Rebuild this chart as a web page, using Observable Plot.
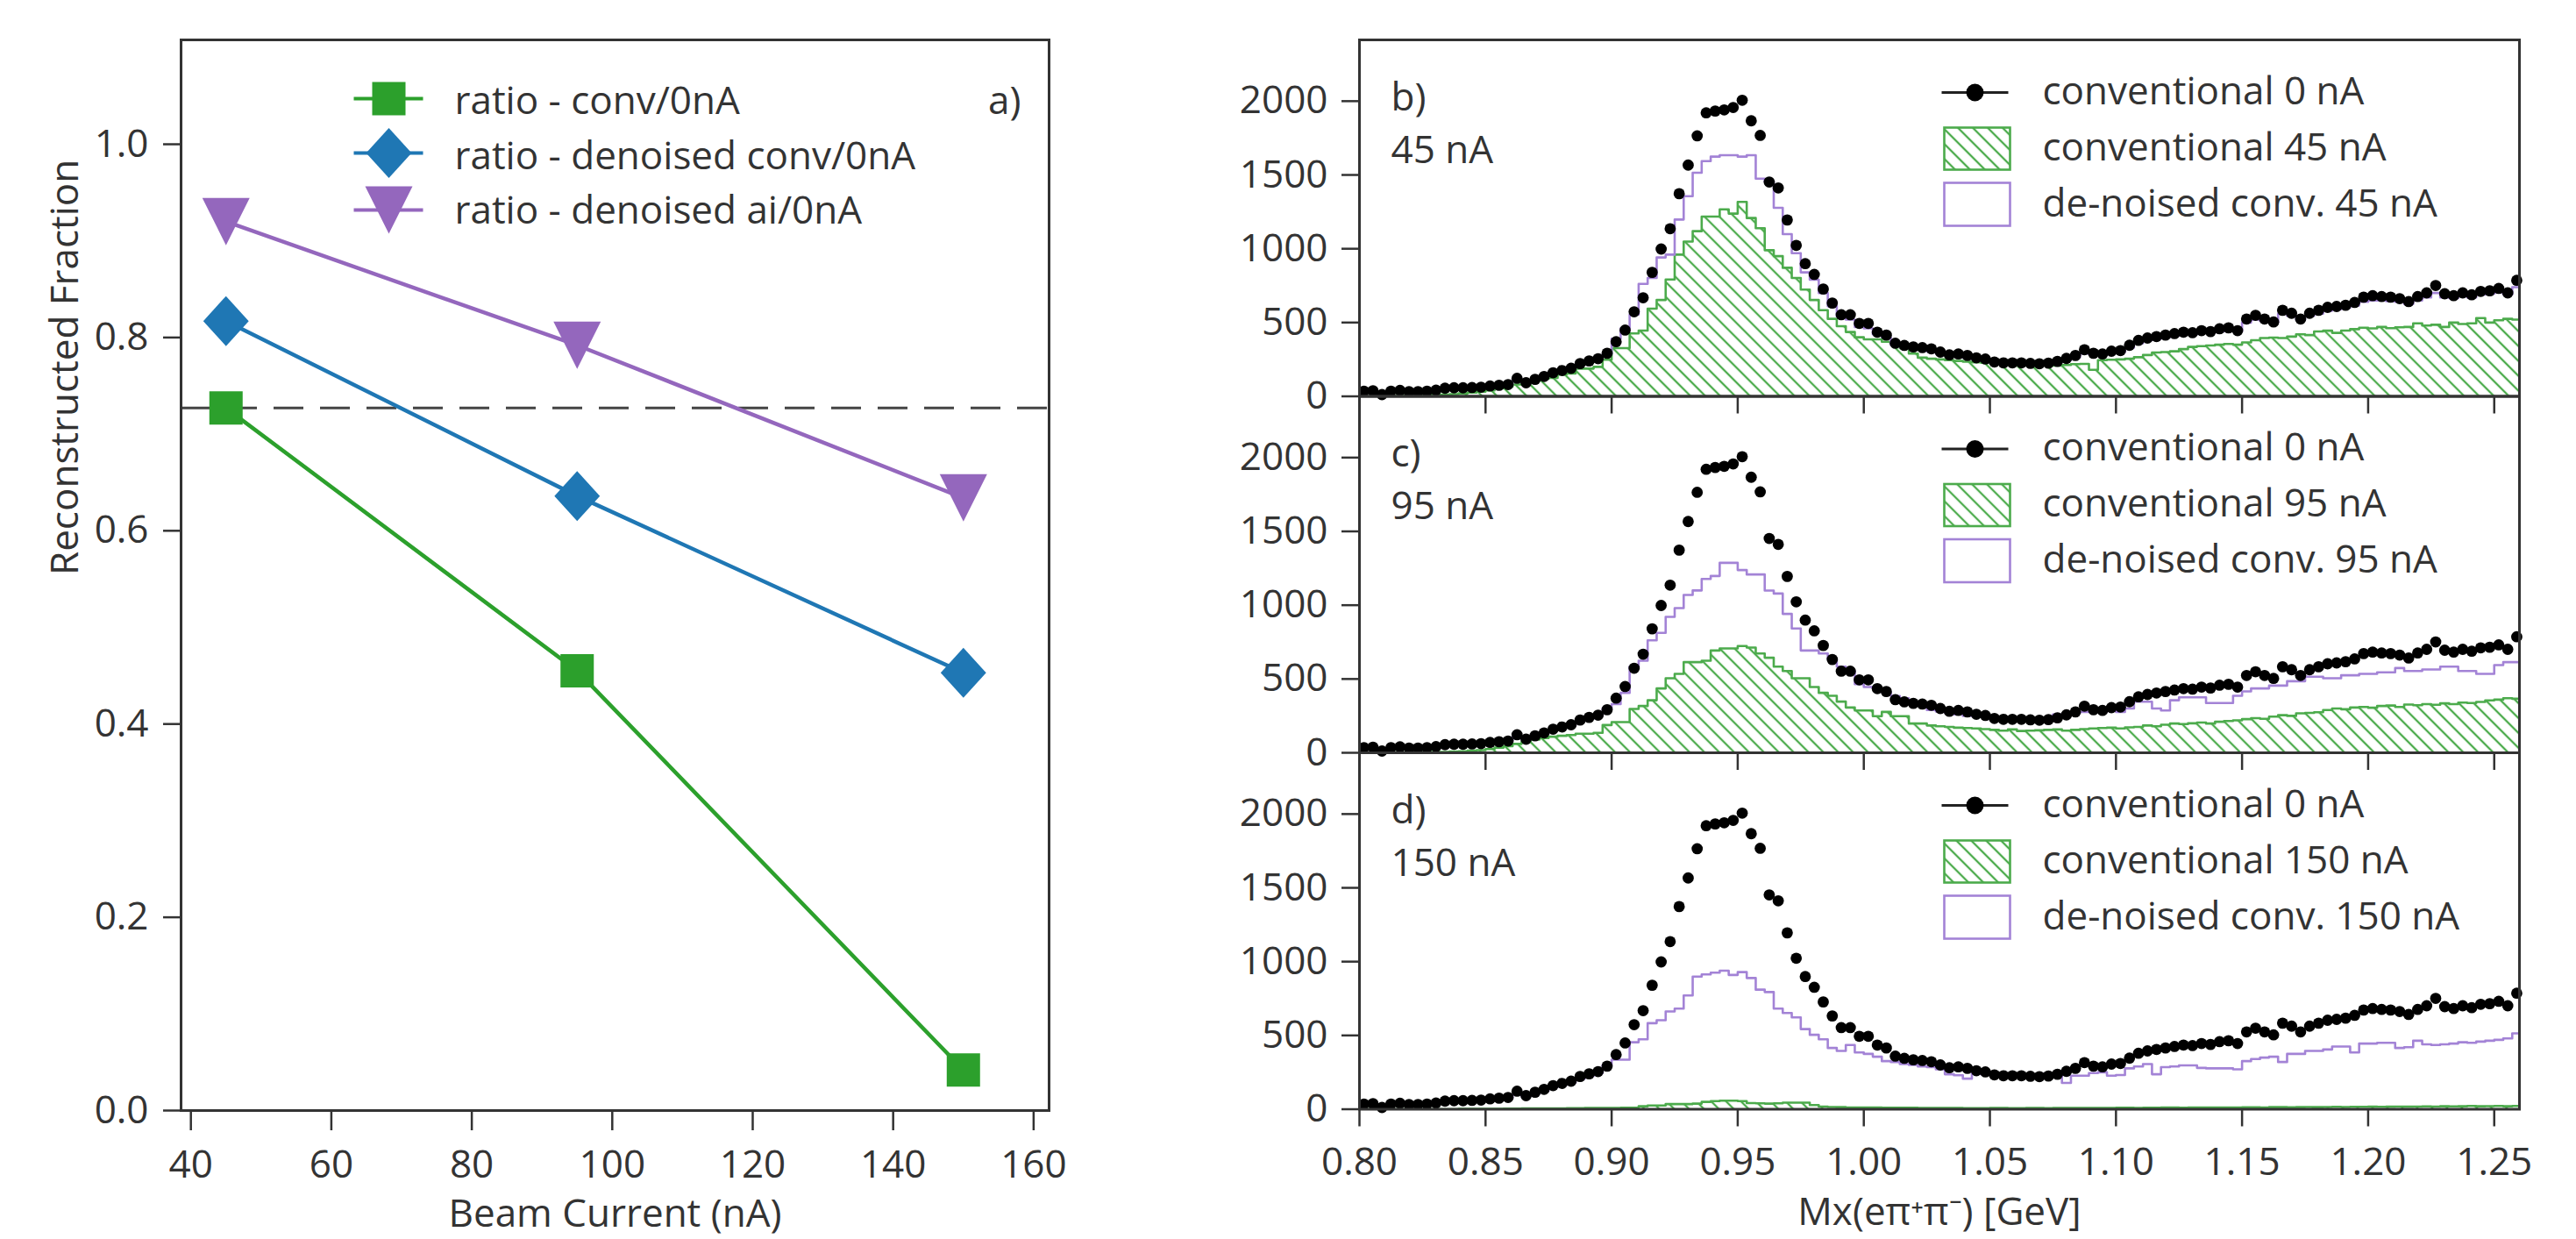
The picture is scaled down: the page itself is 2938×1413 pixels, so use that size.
<!DOCTYPE html>
<html>
<head>
<meta charset="utf-8">
<script src="https://cdn.jsdelivr.net/npm/d3@7"></script>
<script src="https://cdn.jsdelivr.net/npm/@observablehq/plot@0.6"></script>
<style>
html, body { margin: 0; padding: 0; background: #fff; }
#wrap { position: relative; width: 2938px; height: 1413px; background: #fff; overflow: hidden; }
</style>
</head>
<body>
<svg width="0" height="0" style="position:absolute">
  <defs>
    <pattern id="hatchG" patternUnits="userSpaceOnUse" width="12" height="12" patternTransform="rotate(45)">
      <line x1="-1" y1="6" x2="13" y2="6" stroke="#4cab4c" stroke-width="2.3"></line>
    </pattern>
  </defs>
</svg>
<div id="wrap"></div>
<script>
// ---------------- Panel a) data ----------------
const currents = [45, 95, 150];
const ratioConv = [0.727, 0.455, 0.042];
const ratioDenoisedConv = [0.817, 0.636, 0.453];
const ratioDenoisedAi = [0.920, 0.792, 0.634];
const referenceLevel = 0.727;
const beamTicks = [40, 60, 80, 100, 120, 140, 160];
const fracTicks = [0, 0.2, 0.4, 0.6, 0.8, 1.0];
const leftLegend = ["ratio - conv/0nA", "ratio - denoised conv/0nA", "ratio - denoised ai/0nA"];

// ---------------- Panels b) c) d) data ----------------
const binStart = 0.8;
const binWidth = 1 / 280;
const massTicks = [0.80, 0.85, 0.90, 0.95, 1.00, 1.05, 1.10, 1.15, 1.20, 1.25];
const countTicks = [0, 500, 1000, 1500, 2000];

const conv0nA = [35, 38, 12, 35, 40, 32, 32, 35, 42, 55, 58, 58, 60, 62, 70, 75, 80, 122, 92, 115, 135, 160, 175, 190, 222, 240, 255, 292,
  370, 449, 573, 668, 840, 998, 1136, 1373, 1567, 1765, 1921, 1933, 1941, 1957, 2006, 1867, 1768, 1452, 1412, 1195, 1023, 899, 826, 727, 632, 553, 553, 494, 494, 435, 415, 360, 345, 335,
  330, 322, 300, 281, 287, 277, 261, 253, 233, 227, 227, 227, 223, 221, 225, 237, 257, 277, 316, 292, 287, 306, 310, 346, 379, 395, 405, 415, 425, 435, 431, 445, 439, 458, 464, 445, 524, 549, 524, 504, 583, 563, 524, 563, 583, 603, 609, 617, 636, 672, 682, 676, 672, 662, 642, 676, 701, 751, 695, 682, 701, 688, 711, 715, 731, 701, 786];

const conv45nA = [0, 0, 2, 3, 3, 5, 6, 8, 10, 12, 15, 20, 25, 32,
  40, 55, 65, 80, 95, 105, 119, 125, 148, 155, 188, 188, 200, 248, 327, 327, 426, 446, 594, 653, 792, 960, 1049, 1119, 1218, 1218, 1267, 1238, 1317, 1208, 1139, 990, 950, 871, 802, 723, 653, 584, 525, 475, 436, 400, 386, 386, 370, 356, 327, 290, 262,
  255, 250, 245, 240, 235, 230, 228, 225, 222, 215, 218, 210, 212, 215, 208, 212, 218, 220, 180, 245, 248, 250, 255, 265, 280, 297, 300, 305, 320, 335, 340, 345, 350, 355, 350, 365, 380, 395, 398, 395, 405, 420, 415, 440, 445, 430, 446, 455, 465, 460, 470, 462, 468, 470, 495, 480, 485, 470, 500, 490, 495, 530, 500, 515, 525, 520];

const denoised45nA = [34, 37, 12, 34, 40, 32, 32, 35, 42, 54, 57, 57, 60, 62, 69, 74, 80, 118, 92, 113, 133, 158, 172, 188, 220, 238, 252, 285,
  390, 460, 554, 762, 802, 941, 960, 1198, 1356, 1515, 1594, 1624, 1634, 1634, 1624, 1634, 1475, 1455, 1277, 1099, 970, 840, 790, 700, 610, 540, 520, 470, 460, 420, 400, 350, 335, 325, 318,
  305, 290, 275, 270, 262, 250, 240, 225, 218, 220, 218, 215, 215, 220, 230, 245, 265, 290, 285, 280, 295, 300, 330, 360, 380, 390, 400, 410, 420, 420, 430, 430, 440, 450, 440, 500, 520, 510, 500, 560, 545, 520, 545, 560, 580, 590, 600, 615, 640, 650, 650, 645, 640, 625, 650, 670, 700, 670, 665, 680, 670, 690, 695, 705, 690, 740];

const conv95nA = [0, 0, 0, 2, 2, 3, 3, 4, 5, 6, 8, 10, 14, 18,
  25, 35, 45, 60, 75, 90, 100, 109, 115, 120, 129, 129, 135, 188, 208, 208, 297, 317, 356, 436, 505, 535, 614, 614, 624, 693, 707, 707, 723, 713, 673, 644, 584, 554, 505, 505, 446, 406, 386, 347, 307, 287, 287, 248, 277, 248, 248, 198, 198,
  185, 180, 175, 170, 168, 165, 160, 155, 150, 158, 148, 150, 152, 155, 158, 150, 155, 160, 165, 168, 170, 165, 172, 175, 185, 180, 190, 198, 195, 200, 205, 198, 210, 215, 220, 228, 235, 230, 245, 255, 250, 267, 270, 275, 290, 300, 295, 307, 310, 305, 317, 320, 310, 327, 322, 330, 325, 335, 330, 340, 337, 345, 355, 360, 370, 366];

const denoised95nA = [32, 35, 12, 32, 38, 30, 30, 33, 40, 52, 55, 55, 58, 60, 66, 72, 78, 110, 90, 110, 130, 155, 170, 185, 215, 232, 250,
  300, 330, 406, 584, 624, 762, 812, 921, 980, 1069, 1100, 1178, 1198, 1287, 1287, 1238, 1208, 1208, 1099, 1079, 941, 842, 693, 693, 673, 634, 584, 554, 465, 446, 436, 410, 385, 370, 340, 320,
  290, 280, 270, 260, 250, 250, 245, 228, 222, 220, 222, 220, 222, 230, 260, 250, 270, 277, 280, 277, 285, 277, 300, 346, 346, 300, 287, 356, 376, 376, 376, 337, 337, 337, 386, 416, 436, 436, 455, 455, 485, 485, 515, 515, 505, 505, 525, 525, 535, 535, 545, 545, 574, 554, 554, 564, 564, 584, 584, 554, 554, 535, 535, 594, 614, 614];

const conv150nA = [0, 0, 0, 0, 0, 0, 0, 0, 0, 0, 0, 2, 2, 3, 3, 3, 4, 4, 5, 5, 5, 6, 6, 7, 7, 8,
  8, 8, 9, 10, 10, 20, 25, 25, 35, 35, 35, 38, 50, 55, 58, 58, 55, 42, 40, 38, 40, 45, 45, 45, 28, 18, 15, 14, 12, 12, 12, 12, 10, 10, 10,
  10, 9, 9, 8, 8, 8, 7, 7, 7, 8, 8, 7, 7, 8, 8, 7, 8, 8, 9, 9, 8, 9, 9, 10, 10, 9, 10, 10, 11, 11, 10, 12, 12, 11, 12, 12, 12, 13, 13, 12, 14, 14, 13, 14, 15, 14, 15, 16, 15, 16, 16, 17, 16, 17, 18, 17, 18, 19, 18, 20, 19, 20, 22, 20, 21, 22, 20, 22];

const denoised150nA = [30, 32, 15, 30, 35, 30, 28, 32, 38, 48, 52, 52, 55, 58, 62, 68, 75, 100, 88, 105, 125, 150, 165, 180, 205, 225, 245,
  300, 336, 336, 454, 474, 583, 603, 662, 682, 771, 899, 913, 925, 939, 910, 929, 889, 810, 794, 682, 652, 622, 543, 504, 474, 415, 395, 435, 385, 375, 356, 326, 320, 306,
  300, 290, 285, 270, 237, 230, 207, 250, 237, 240, 240, 235, 238, 235, 232, 240, 235, 178, 227, 227, 245, 250, 227, 232, 277, 290, 306, 237, 285, 290, 297, 297, 280, 277, 277, 277, 270, 326, 340, 350, 356, 320, 375, 375, 395, 395, 405, 425, 425, 385, 445, 445, 450, 450, 415, 420, 464, 440, 435, 440, 445, 454, 450, 458, 464, 470, 480, 514];

const panelLetters = ["b)", "c)", "d)"];
const panelCurrents = ["45 nA", "95 nA", "150 nA"];
const legendZero = "conventional 0 nA";
const legendConv = ["conventional 45 nA", "conventional 95 nA", "conventional 150 nA"];
const legendDenoised = ["de-noised conv. 45 nA", "de-noised conv. 95 nA", "de-noised conv. 150 nA"];

// ---------------- styling ----------------
const cGreen = "#2ca02c", cBlue = "#1f77b4", cPurple = "#9467bd";
const hGreen = "#4cab4c", hPurple = "#a383d6";
const ink = "#333";
const FONT = 44;
const svgStyle = (left) => `position:absolute;left:${left}px;top:0px;background:transparent;max-width:none;overflow:visible;font-family:'Open Sans',sans-serif;font-size:${FONT}px;color:${ink};`;

const squareSym = {draw(ctx, size) { const r = Math.sqrt(size / Math.PI); ctx.rect(-r, -r, 2 * r, 2 * r); }};
const diamondSym = {draw(ctx, size) { const r = Math.sqrt(size / Math.PI), w = r * 0.91; ctx.moveTo(0, -r); ctx.lineTo(w, 0); ctx.lineTo(0, r); ctx.lineTo(-w, 0); ctx.closePath(); }};
const triDownSym = {draw(ctx, size) { const r = Math.sqrt(size / Math.PI); ctx.moveTo(0, r); ctx.lineTo(-r, -r); ctx.lineTo(r, -r); ctx.closePath(); }};

const wrap = document.getElementById("wrap");

// ---------------- Panel a) ----------------
const leftRows = currents.map((c, i) => ({current: c, conv: ratioConv[i], dconv: ratioDenoisedConv[i], dai: ratioDenoisedAi[i]}));
const LW = 1400, LH = 1413, LML = 206, LMR = 204, LMT = 45, LMB = 147;
const LFW = LW - LML - LMR, LFH = LH - LMT - LMB;
const legRowsY = [67, 129, 194];
const legBase = [84.5, 147, 209.5];
const legColors = [cGreen, cBlue, cPurple];
const legSyms = [squareSym, diamondSym, triDownSym];
const legR = [19, 28.5, 27];

const leftMarks = [
  Plot.ruleY([referenceLevel], {stroke: "#444", strokeWidth: 3, strokeDasharray: "34,19"}),
  Plot.line(leftRows, {x: "current", y: "conv", stroke: cGreen, strokeWidth: 4.5}),
  Plot.line(leftRows, {x: "current", y: "dconv", stroke: cBlue, strokeWidth: 4.5}),
  Plot.line(leftRows, {x: "current", y: "dai", stroke: cPurple, strokeWidth: 4.5}),
  Plot.dot(leftRows, {x: "current", y: "conv", symbol: squareSym, r: 19, fill: cGreen, stroke: "none"}),
  Plot.dot(leftRows, {x: "current", y: "dconv", symbol: diamondSym, r: 28.5, fill: cBlue, stroke: "none"}),
  Plot.dot(leftRows, {x: "current", y: "dai", symbol: triDownSym, r: 27, fill: cPurple, stroke: "none"}),
  Plot.frame({stroke: ink, strokeWidth: 3}),
  Plot.axisX({ticks: beamTicks, tickSize: 23, tickPadding: 22, strokeWidth: 2.5, fontSize: FONT, label: null}),
  Plot.axisY({ticks: fracTicks, tickFormat: d3.format(".1f"), tickSize: 20, tickPadding: 17, strokeWidth: 2.5, fontSize: FONT, label: null}),
  Plot.text(["Beam Current (nA)"], {text: d => d, frameAnchor: "bottom", dy: 118, lineAnchor: "middle", fontSize: FONT, fill: ink}),
  Plot.text(["Reconstructed Fraction"], {text: d => d, frameAnchor: "left", dx: -132, rotate: -90, lineAnchor: "middle", fontSize: FONT, fill: ink}),
  Plot.text(["a)"], {text: d => d, frameAnchor: "top-right", textAnchor: "end", dx: -32, dy: legBase[0], lineAnchor: "bottom", fontSize: FONT, fill: ink})
];
leftLegend.forEach((label, i) => {
  const c = legRowsY[i];
  leftMarks.push(
    Plot.frame({fill: legColors[i], stroke: "none", insetLeft: 197, insetRight: LFW - 276, insetTop: c - 2, insetBottom: LFH - c - 2}),
    Plot.dot([label], {frameAnchor: "top-left", dx: 237, dy: c, symbol: legSyms[i], r: legR[i], fill: legColors[i], stroke: "none"}),
    Plot.text([label], {text: d => d, frameAnchor: "top-left", textAnchor: "start", dx: 312, dy: legBase[i], lineAnchor: "bottom", fontSize: FONT, fill: ink})
  );
});

wrap.appendChild(Plot.plot({
  width: LW, height: LH, marginLeft: LML, marginRight: LMR, marginTop: LMT, marginBottom: LMB,
  x: {domain: [38.6, 162.2]},
  y: {domain: [0, 1.108]},
  style: svgStyle(0),
  marks: leftMarks
}));

// ---------------- Panels b) c) d) ----------------
const RW = 1538, RML = 150, RMR = 65;
const RFW = RW - RML - RMR;
const panelTops = [45, 451.5, 858];
const panelH = 406.5;

const histRows = d3.range(conv0nA.length + 1).map(i => {
  const j = Math.min(i, conv0nA.length - 1);
  return {x: binStart + i * binWidth, c45: conv45nA[j], c95: conv95nA[j], c150: conv150nA[j], d45: denoised45nA[j], d95: denoised95nA[j], d150: denoised150nA[j]};
});
const dotRows = conv0nA.map((v, k) => ({x: binStart + (k + 0.5) * binWidth, y: v}));
const convKeys = ["c45", "c95", "c150"];
const denKeys = ["d45", "d95", "d150"];

for (let p = 0; p < 3; p++) {
  const top = panelTops[p];
  const bottom = top + panelH;
  const marks = [
    Plot.areaY(histRows, {x: "x", y: convKeys[p], curve: "step-after", fill: "url(#hatchG)", clip: true}),
    Plot.lineY(histRows, {x: "x", y: convKeys[p], curve: "step-after", stroke: hGreen, strokeWidth: 2.6, clip: true}),
    Plot.lineY(histRows, {x: "x", y: denKeys[p], curve: "step-after", stroke: hPurple, strokeWidth: 2.6, clip: true}),
    Plot.dot(dotRows, {x: "x", y: "y", r: 6.4, fill: "#000", stroke: "none"}),
    Plot.frame({stroke: ink, strokeWidth: 3}),
    Plot.axisX({ticks: massTicks, tickSize: 20, tickPadding: 24, strokeWidth: 2.5, fontSize: FONT, label: null,
      tickFormat: p === 2 ? d3.format(".2f") : () => ""}),
    Plot.axisY({ticks: countTicks, tickFormat: d3.format("d"), tickSize: 20, tickPadding: 16, strokeWidth: 2.5, fontSize: FONT, label: null}),
    Plot.text([panelLetters[p]], {text: d => d, frameAnchor: "top-left", textAnchor: "start", dx: 36, dy: 80, lineAnchor: "bottom", fontSize: FONT, fill: ink}),
    Plot.text([panelCurrents[p]], {text: d => d, frameAnchor: "top-left", textAnchor: "start", dx: 36, dy: 140, lineAnchor: "bottom", fontSize: FONT, fill: ink}),
    // legend
    Plot.frame({fill: "#222", stroke: "none", insetLeft: 664, insetRight: RFW - 740, insetTop: 58.5, insetBottom: panelH - 61.5}),
    Plot.dot([legendZero], {frameAnchor: "top-left", dx: 702, dy: 60, r: 10, fill: "#000", stroke: "none"}),
    Plot.frame({fill: "url(#hatchG)", stroke: hGreen, strokeWidth: 2.6, insetLeft: 667, insetRight: RFW - 742, insetTop: 100, insetBottom: panelH - 148}),
    Plot.frame({fill: "none", stroke: hPurple, strokeWidth: 2.6, insetLeft: 667, insetRight: RFW - 742, insetTop: 163, insetBottom: panelH - 212}),
    Plot.text([legendZero], {text: d => d, frameAnchor: "top-left", textAnchor: "start", dx: 779, dy: 73, lineAnchor: "bottom", fontSize: FONT, fill: ink}),
    Plot.text([legendConv[p]], {text: d => d, frameAnchor: "top-left", textAnchor: "start", dx: 779, dy: 137, lineAnchor: "bottom", fontSize: FONT, fill: ink}),
    Plot.text([legendDenoised[p]], {text: d => d, frameAnchor: "top-left", textAnchor: "start", dx: 779, dy: 201, lineAnchor: "bottom", fontSize: FONT, fill: ink})
  ];
  if (p === 2) {
    marks.push(Plot.text(["Mx(eπ⁺π⁻) [GeV]"], {text: d => d, frameAnchor: "bottom", dy: 118, lineAnchor: "middle", fontSize: FONT, fill: ink}));
  }
  wrap.appendChild(Plot.plot({
    width: RW, height: 1413, marginLeft: RML, marginRight: RMR, marginTop: top, marginBottom: 1413 - bottom,
    x: {domain: [0.8, 1.26]},
    y: {domain: [0, 2415]},
    style: svgStyle(1400),
    marks
  }));
}
</script>
</body>
</html>
